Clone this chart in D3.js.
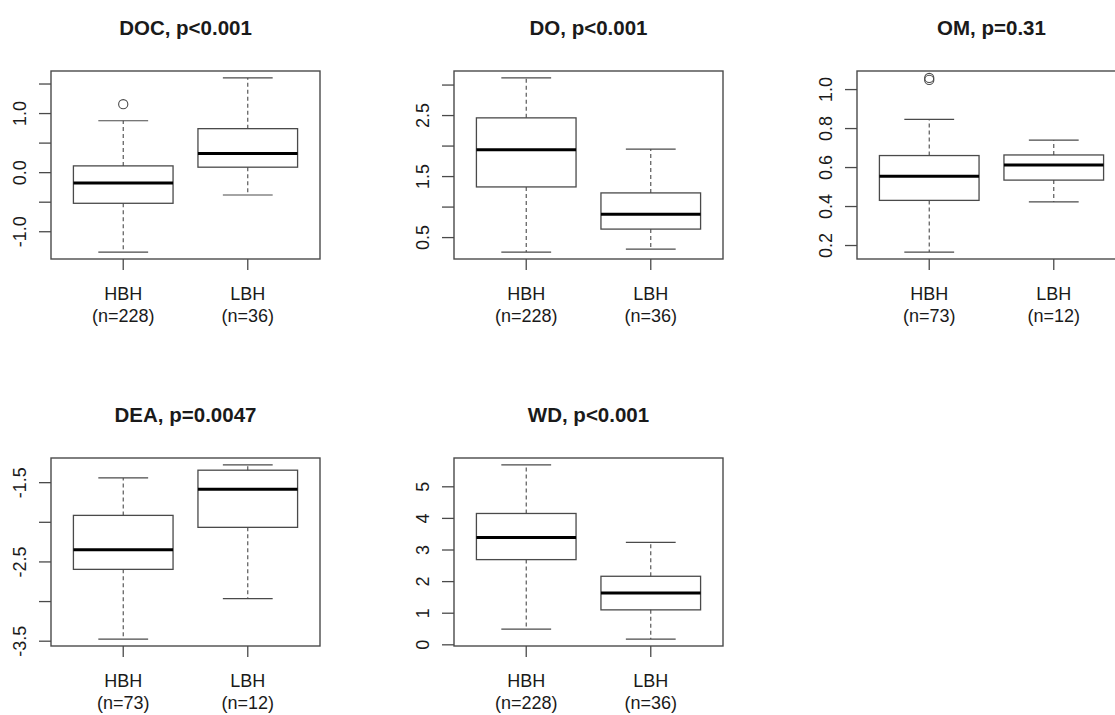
<!DOCTYPE html>
<html>
<head>
<meta charset="utf-8">
<script src="https://cdn.jsdelivr.net/npm/d3@7"></script>
<style>
  html, body { margin: 0; padding: 0; background: #fff; }
  svg { display: block; font-family: "Liberation Sans", Arial, sans-serif; }
</style>
</head>
<body>
<svg id="chart" width="1115" height="715"></svg>
<script>
// ---------- data ----------
const titles = ["DOC, p<0.001", "DO, p<0.001", "OM, p=0.31", "DEA, p=0.0047", "WD, p<0.001"];
const groups = ["HBH", "LBH"];
const counts = [[228, 36], [228, 36], [73, 12], [73, 12], [228, 36]];
const whiskerLow  = [[-1.352, -0.387], [0.255, 0.304], [0.164, 0.421], [-3.479, -2.968], [0.482, 0.167]];
const q1          = [[-0.527,  0.084], [1.322, 0.631], [0.429, 0.533], [-2.600, -2.070], [2.680, 1.090]];
const medians     = [[-0.185,  0.315], [1.931, 0.876], [0.553, 0.611], [-2.353, -1.588], [3.383, 1.627]];
const q3          = [[ 0.106,  0.736], [2.454, 1.224], [0.659, 0.662], [-1.919, -1.349], [4.140, 2.153]];
const whiskerHigh = [[ 0.870,  1.594], [3.108, 1.943], [0.845, 0.738], [-1.446, -1.283], [5.675, 3.225]];
const outliers    = [[[1.150], []], [[], []], [[1.047, 1.057], []], [[], []], [[], []]];
const tickValues = [
  [-1.0, -0.5, 0.0, 0.5, 1.0, 1.5],
  [0.5, 1.0, 1.5, 2.0, 2.5, 3.0],
  [0.2, 0.4, 0.6, 0.8, 1.0],
  [-3.5, -3.0, -2.5, -2.0, -1.5],
  [0, 1, 2, 3, 4, 5]
];
const tickLabels = [
  ["-1.0", "", "0.0", "", "1.0", ""],
  ["0.5", "", "1.5", "", "2.5", ""],
  ["0.2", "0.4", "0.6", "0.8", "1.0"],
  ["-3.5", "", "-2.5", "", "-1.5"],
  ["0", "1", "2", "3", "4", "5"]
];

// ---------- layout ----------
const colLeft = [51, 454, 857];
const rowTop = [71, 458];
const plotW = 269, plotH = 188;
const lineCol = "#4a4a4a";
const textCol = "#1a1a1a";

const svg = d3.select("#chart");

titles.forEach((title, p) => {
  const col = p % 3, row = Math.floor(p / 3);
  const x0 = colLeft[col], y0 = rowTop[row];
  const g = svg.append("g").attr("transform", `translate(${x0},${y0})`);

  // R-style ranges: x in [0.5, 2.5] expanded 4%, y data range expanded 4%
  const allVals = [].concat(...whiskerLow[p], ...whiskerHigh[p], ...outliers[p][0], ...outliers[p][1]);
  const [mn, mx] = d3.extent(allVals);
  const pad = (mx - mn) * 0.04;
  const y = d3.scaleLinear().domain([mn - pad, mx + pad]).range([plotH, 0]);
  const x = d3.scaleLinear().domain([0.42, 2.58]).range([0, plotW]);

  // title
  g.append("text")
    .attr("x", plotW / 2).attr("y", -36)
    .attr("text-anchor", "middle")
    .attr("font-size", 20.5).attr("font-weight", "bold")
    .attr("fill", textCol)
    .text(title);

  // boxes
  groups.forEach((grp, i) => {
    const c = i + 1;
    const bw = 0.4, cw = 0.2;
    // whiskers (dashed)
    g.append("line")
      .attr("x1", x(c)).attr("x2", x(c))
      .attr("y1", y(q3[p][i])).attr("y2", y(whiskerHigh[p][i]))
      .attr("stroke", lineCol).attr("stroke-width", 1.1).attr("stroke-dasharray", "4,3");
    g.append("line")
      .attr("x1", x(c)).attr("x2", x(c))
      .attr("y1", y(q1[p][i])).attr("y2", y(whiskerLow[p][i]))
      .attr("stroke", lineCol).attr("stroke-width", 1.1).attr("stroke-dasharray", "4,3");
    // caps
    [whiskerLow[p][i], whiskerHigh[p][i]].forEach(v => {
      g.append("line")
        .attr("x1", x(c - cw)).attr("x2", x(c + cw))
        .attr("y1", y(v)).attr("y2", y(v))
        .attr("stroke", lineCol).attr("stroke-width", 1.2);
    });
    // box
    g.append("rect")
      .attr("x", x(c - bw)).attr("width", x(c + bw) - x(c - bw))
      .attr("y", y(q3[p][i])).attr("height", y(q1[p][i]) - y(q3[p][i]))
      .attr("fill", "none").attr("stroke", lineCol).attr("stroke-width", 1.3);
    // median
    g.append("line")
      .attr("x1", x(c - bw)).attr("x2", x(c + bw))
      .attr("y1", y(medians[p][i])).attr("y2", y(medians[p][i]))
      .attr("stroke", "#000").attr("stroke-width", 3);
    // outliers
    outliers[p][i].forEach(v => {
      g.append("circle")
        .attr("cx", x(c)).attr("cy", y(v)).attr("r", 4.6)
        .attr("fill", "none").attr("stroke", lineCol).attr("stroke-width", 1.1);
    });
    // x tick
    g.append("line")
      .attr("x1", x(c)).attr("x2", x(c))
      .attr("y1", plotH).attr("y2", plotH + 11)
      .attr("stroke", lineCol).attr("stroke-width", 1.3);
    // x labels
    g.append("text")
      .attr("x", x(c)).attr("y", plotH + 41)
      .attr("text-anchor", "middle").attr("font-size", 18).attr("fill", textCol)
      .text(grp);
    g.append("text")
      .attr("x", x(c)).attr("y", plotH + 63)
      .attr("text-anchor", "middle").attr("font-size", 18).attr("fill", textCol)
      .text(`(n=${counts[p][i]})`);
  });

  // y axis via d3 axis
  const yAxis = d3.axisLeft(y)
    .tickValues(tickValues[p])
    .tickSize(12)
    .tickPadding(13)
    .tickFormat((d, k) => tickLabels[p][k]);
  const ga = g.append("g").call(yAxis);
  ga.select(".domain").remove();
  ga.selectAll(".tick line").attr("stroke", lineCol).attr("stroke-width", 1.3);
  ga.selectAll(".tick text")
    .attr("font-size", 18).attr("fill", textCol)
    .attr("font-family", "Liberation Sans, Arial, sans-serif")
    .attr("transform", "rotate(-90)")
    .attr("x", 0).attr("y", -25)
    .attr("dy", "0")
    .attr("text-anchor", "middle");

  // frame (clipped at canvas edge for third column)
  g.append("rect")
    .attr("x", 0).attr("y", 0).attr("width", plotW).attr("height", plotH)
    .attr("fill", "none").attr("stroke", lineCol).attr("stroke-width", 1.4);
});
</script>
</body>
</html>
